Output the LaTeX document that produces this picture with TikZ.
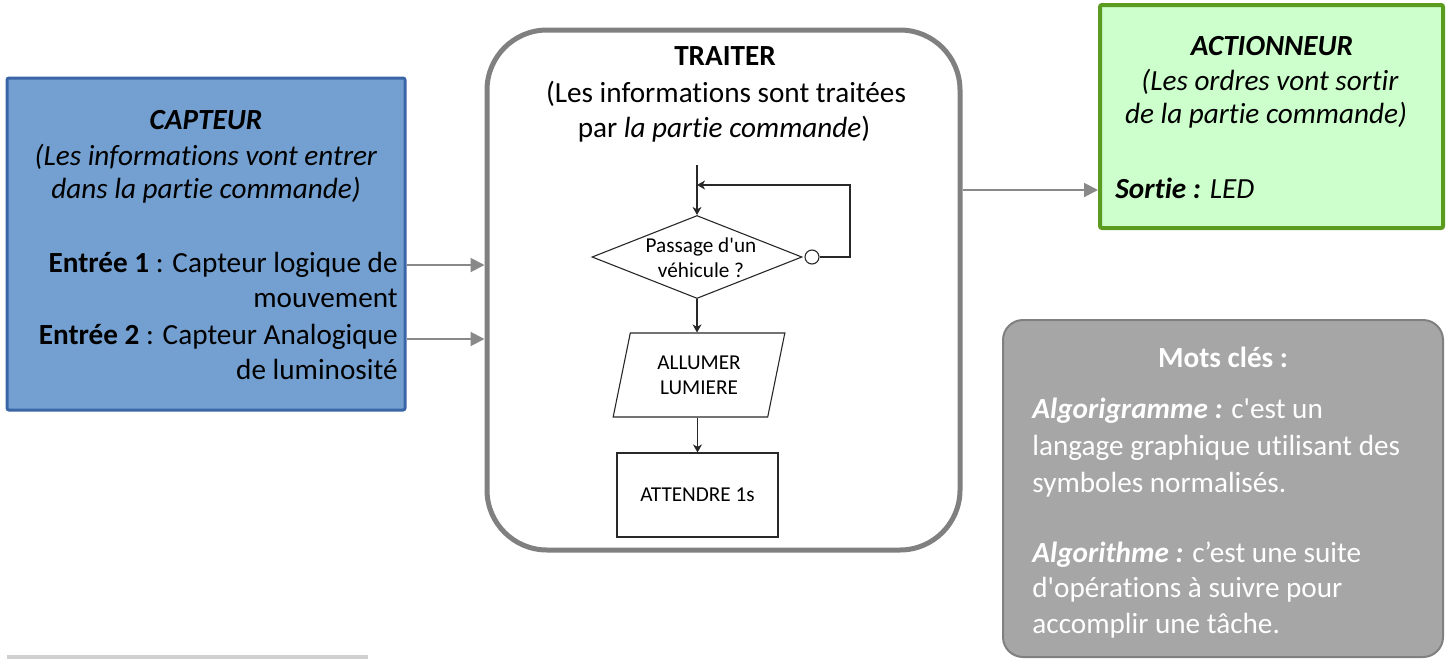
\documentclass[tikz,border=0pt]{standalone}
\usepackage{fontspec}
\setmainfont{Carlito}[Ligatures={TeX,NoCommon}]
\usetikzlibrary{shapes.geometric,arrows.meta}

\definecolor{bleu}{RGB}{115,160,208}
\definecolor{bleufonce}{RGB}{58,102,166}
\definecolor{vertclair}{RGB}{204,255,204}
\definecolor{vert}{RGB}{91,155,31}
\definecolor{grisbord}{RGB}{128,128,128}
\definecolor{grisfleche}{RGB}{137,137,137}
\definecolor{grisfond}{RGB}{166,166,166}
\definecolor{grisclair}{RGB}{208,208,208}
\definecolor{trace}{RGB}{40,40,40}

\tikzset{
	texte/.style={inner sep=0pt,anchor=base,font=\fontsize{14.6}{17.75}\selectfont},
	petit/.style={inner sep=0pt,font=\fontsize{10.6}{12.5}\selectfont,align=center},
	fleche/.style={-{Triangle[length=7pt,width=7pt]},draw=grisfleche,line width=1pt},
	flot/.style={-{Stealth[length=4pt,width=4.5pt,inset=1.2pt]},draw=trace,line width=0.55pt},
	trait/.style={draw=trace,line width=0.55pt},
}

\begin{document}
\begin{tikzpicture}[x=0.5pt,y=-0.5pt]
\def\pix{0.5pt}
\useasboundingbox (0,0) rectangle (1450,659);

% les trois blocs
\node[draw=bleufonce,fill=bleu,line width=1.5pt,rounded corners=1pt,
	minimum width=398*\pix,minimum height=332*\pix] (capteur) at (206,244) {};
\node[draw=grisbord,line width=2.5pt,rounded corners=30pt,
	minimum width=473*\pix,minimum height=520*\pix] (traiter) at (723.5,290) {};
\node[draw=vert,fill=vertclair,line width=2pt,rounded corners=1pt,
	minimum width=343*\pix,minimum height=223*\pix] (actionneur) at (1271.5,116.5) {};
\node[draw=grisbord,fill=grisfond,line width=1pt,rounded corners=10pt,
	minimum width=440*\pix,minimum height=337*\pix] (motscles) at (1223,488.5) {};

\fill[grisclair] (7,655) rectangle (368,659);

% capteur
\node[texte] (capteurtitre) at (206,129) {\textbf{\textit{CAPTEUR}}};
\node[texte] (capteurl1) at (206,165) {\textit{(Les informations vont entrer}};
\node[texte] (capteurl2) at (206,198) {\textit{dans la partie commande)}};
\node[texte,anchor=base east] (entree1) at (398,272) {\textbf{Entrée 1} : Capteur logique de};
\node[texte,anchor=base east] (entree1b) at (398,307) {mouvement};
\node[texte,anchor=base east] (entree2) at (398,344) {\textbf{Entrée 2} : Capteur Analogique};
\node[texte,anchor=base east] (entree2b) at (398,379) {de luminosité};

% traiter
\node[texte] (traitertitre) at (725,65) {\textbf{TRAITER}};
\node[texte] (traiterl1) at (726,102) {(Les informations sont traitées};
\node[texte] (traiterl2) at (724,137) {par \textit{la partie commande})};

% actionneur
\node[texte] (actiontitre) at (1272,55) {\textbf{\textit{ACTIONNEUR}}};
\node[texte] (actionl1) at (1270,90) {\textit{(Les ordres vont sortir}};
\node[texte] (actionl2) at (1266,123) {\textit{de la partie commande)}};
\node[texte,anchor=base west] (sortie) at (1115,198) {\textbf{\textit{Sortie :}} \textit{LED}};

% mots cles
\begin{scope}[every node/.append style={text=white}]
\node[texte] (motstitre) at (1223,367) {\textbf{Mots clés :}};
\node[texte,anchor=base west] (mots1) at (1032,418) {\textbf{\textit{Algorigramme :}} c\textquotesingle est un};
\node[texte,anchor=base west] (mots2) at (1032,455) {langage graphique utilisant des};
\node[texte,anchor=base west] (mots3) at (1032,492) {symboles normalisés.};
\node[texte,anchor=base west] (mots4) at (1032,562) {\textbf{\textit{Algorithme :}} c’est une suite};
\node[texte,anchor=base west] (mots5) at (1032,597) {d\textquotesingle opérations à suivre pour};
\node[texte,anchor=base west] (mots6) at (1032,633) {accomplir une tâche.};
\end{scope}

% algorigramme
\coordinate (debut) at (697,165);
\coordinate (coin) at (850,185);
\node[trait,diamond,inner sep=0pt,minimum width=210*\pix,minimum height=83*\pix] (test) at (697,257) {};
\node[petit] (testtexte) at (701,258) {Passage d\textquotesingle un\\véhicule ?};
\node[trait,circle,fill=white,inner sep=0pt,minimum size=14*\pix] (rond) at (812,257) {};
\node[trait,petit,trapezium,trapezium left angle=75,trapezium right angle=105,trapezium stretches=true,
	minimum width=172*\pix,minimum height=84*\pix] (allumer) at (699,375) {ALLUMER\\LUMIERE};
\node[trait,petit,minimum width=161*\pix,minimum height=84*\pix] (attendre) at (697.5,495) {ATTENDRE 1s};

\draw[flot] (debut) -- (test.north);
\draw[flot] (rond.east) -| (coin) -- (debut |- coin);
\draw[flot] (test.south) -- (test.south |- allumer.north);
\draw[flot] (attendre.north |- allumer.south) -- (attendre.north);

% liaisons
\coordinate (e1) at ([yshift=-10.5pt]capteur.east);
\coordinate (e2) at ([yshift=-47.5pt]capteur.east);
\coordinate (s1) at ([yshift=50pt]traiter.east);
\draw[fleche] (e1) -- (e1 -| traiter.west);
\draw[fleche] (e2) -- (e2 -| traiter.west);
\draw[fleche] (s1) -- (s1 -| actionneur.west);

\end{tikzpicture}
\end{document}
